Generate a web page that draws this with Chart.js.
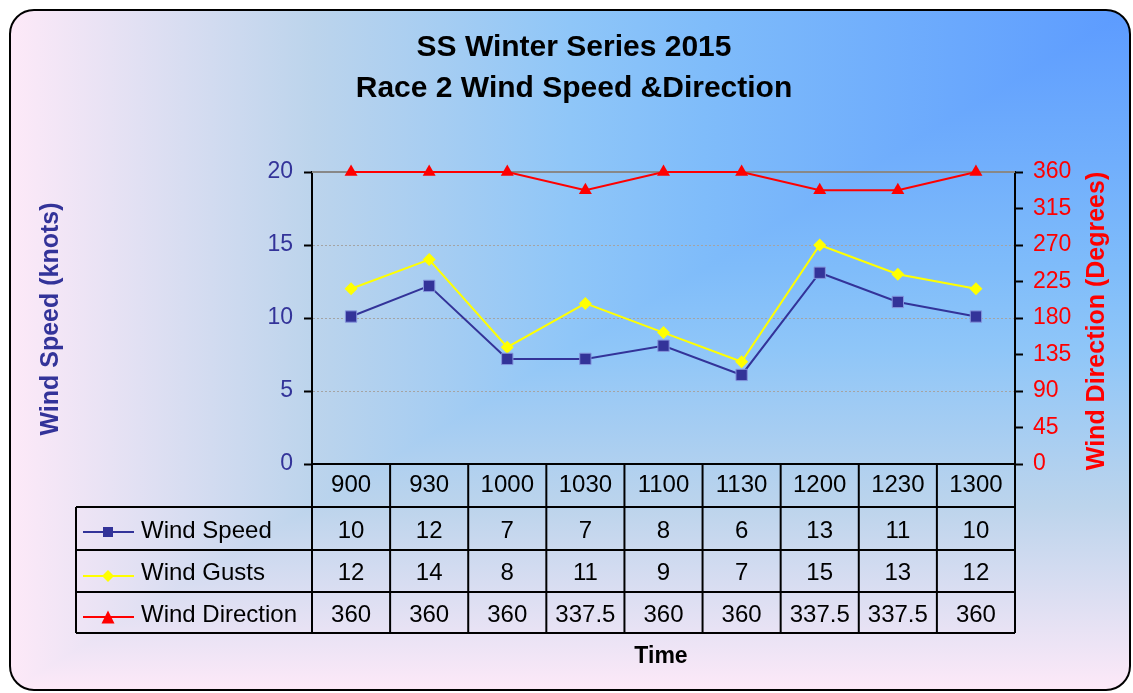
<!DOCTYPE html>
<html>
<head>
<meta charset="utf-8">
<title>SS Winter Series 2015 - Race 2</title>
<script src="https://cdn.jsdelivr.net/npm/chart.js@4.4.0/dist/chart.umd.min.js"></script>
<style>
  html, body { margin: 0; padding: 0; background: #fff; }
  #grafico { display: block; }
</style>
</head>
<body>
<canvas id="grafico" width="1133" height="693"></canvas>
<script>
// Dados
const horarios   = ['900', '930', '1000', '1030', '1100', '1130', '1200', '1230', '1300']
const velocidade = [10.1, 12.2, 7.2, 7.2, 8.1, 6.1, 13.1, 11.1, 10.1]
const rajadas    = [12, 14, 8, 11, 9, 7, 15, 13, 12]
const direcao    = [360, 360, 360, 337.5, 360, 360, 337.5, 337.5, 360]

const titulo      = ['SS Winter Series 2015', 'Race 2 Wind Speed &Direction']
const tituloEsq   = 'Wind Speed (knots)'
const tituloDir   = 'Wind Direction (Degrees)'
const tituloX     = 'Time'

const FONTE = '"Liberation Sans", Arial, sans-serif'
const AZUL = '#333399'
const AMARELO = '#ffff00'
const VERMELHO = '#ff0000'

Chart.defaults.font.family = FONTE

// gradiente "do canto" (retangular) a partir do canto superior direito
const paradas = [
  [0, '#5c9bff'],
  [0.38, '#7fbcfa'],
  [0.5, '#8fc6f8'],
  [0.73, '#bcd4ec'],
  [1, '#fde9f8']
]

function caminhoArredondado(ctx, x, y, w, h, r) {
  ctx.beginPath()
  ctx.moveTo(x + r, y)
  ctx.lineTo(x + w - r, y)
  ctx.arcTo(x + w, y, x + w, y + r, r)
  ctx.lineTo(x + w, y + h - r)
  ctx.arcTo(x + w, y + h, x + w - r, y + h, r)
  ctx.lineTo(x + r, y + h)
  ctx.arcTo(x, y + h, x, y + h - r, r)
  ctx.lineTo(x, y + r)
  ctx.arcTo(x, y, x + r, y, r)
  ctx.closePath()
}

const fundo = {
  id: 'fundo',
  beforeDraw(chart) {
    const ctx = chart.ctx
    const x0 = 10, y0 = 10, x1 = 1130, y1 = 690
    ctx.save()
    ctx.fillStyle = '#fff'
    ctx.fillRect(0, 0, chart.width, chart.height)
    caminhoArredondado(ctx, x0, y0, x1 - x0, y1 - y0, 24)
    ctx.save()
    ctx.clip()
    const gv = ctx.createLinearGradient(0, y0, 0, y1)
    const gh = ctx.createLinearGradient(x1, 0, x0, 0)
    paradas.forEach(([p, c]) => { gv.addColorStop(p, c); gh.addColorStop(p, c) })
    ctx.fillStyle = gv
    ctx.fillRect(x0, y0, x1 - x0, y1 - y0)
    ctx.beginPath()
    ctx.moveTo(x0, y0)
    ctx.lineTo(x1, y0)
    ctx.lineTo(x0, y1)
    ctx.closePath()
    ctx.fillStyle = gh
    ctx.fill()
    ctx.restore()
    // borda arredondada
    caminhoArredondado(ctx, x0, y0, x1 - x0, y1 - y0, 24)
    ctx.lineWidth = 2
    ctx.strokeStyle = '#000'
    ctx.stroke()
    ctx.restore()
  },
  beforeDatasetsDraw(chart) {
    // linha superior da área do gráfico
    const { ctx, chartArea } = chart
    ctx.save()
    ctx.strokeStyle = '#888'
    ctx.lineWidth = 2
    ctx.beginPath()
    ctx.moveTo(chartArea.left, chartArea.top)
    ctx.lineTo(chartArea.right, chartArea.top)
    ctx.stroke()
    ctx.restore()
  }
}

function marcador(ctx, tipo, x, y, cor, tam) {
  ctx.fillStyle = cor
  ctx.beginPath()
  if (tipo === 'rect') {
    ctx.rect(x - tam / 2, y - tam / 2, tam, tam)
  } else if (tipo === 'rectRot') {
    ctx.moveTo(x, y - tam / 2)
    ctx.lineTo(x + tam / 2, y)
    ctx.lineTo(x, y + tam / 2)
    ctx.lineTo(x - tam / 2, y)
  } else {
    ctx.moveTo(x, y - tam / 2)
    ctx.lineTo(x + tam / 2, y + tam / 2)
    ctx.lineTo(x - tam / 2, y + tam / 2)
  }
  ctx.closePath()
  ctx.fill()
}

const tabela = {
  id: 'tabela',
  afterDraw(chart) {
    const { ctx, chartArea } = chart
    const xs = chart.scales.x
    const esq = 76
    const linhas = [507, 550, 592, 633]
    const topo = chartArea.bottom

    ctx.save()
    ctx.strokeStyle = '#000'
    ctx.lineWidth = 2

    // linhas horizontais da tabela
    linhas.forEach(y => {
      ctx.beginPath()
      ctx.moveTo(esq, y)
      ctx.lineTo(chartArea.right, y)
      ctx.stroke()
    })
    // colunas
    const bordas = [chartArea.left]
    for (let i = 1; i < horarios.length; i++) {
      bordas.push((xs.getPixelForValue(i - 1) + xs.getPixelForValue(i)) / 2)
    }
    bordas.push(chartArea.right)
    bordas.forEach(x => {
      ctx.beginPath()
      ctx.moveTo(x, topo)
      ctx.lineTo(x, linhas[3])
      ctx.stroke()
    })
    ctx.beginPath()
    ctx.moveTo(esq, linhas[0])
    ctx.lineTo(esq, linhas[3])
    ctx.stroke()

    // legenda + valores
    const series = [
      { nome: 'Wind Speed', cor: AZUL, tipo: 'rect', tam: 10, dados: velocidade.map(v => Math.round(v)), y: 531, ym: 532 },
      { nome: 'Wind Gusts', cor: AMARELO, tipo: 'rectRot', tam: 12, dados: rajadas, y: 573, ym: 576 },
      { nome: 'Wind Direction', cor: VERMELHO, tipo: 'triangle', tam: 13, dados: direcao, y: 615, ym: 617 }
    ]
    series.forEach(s => {
      ctx.strokeStyle = s.cor
      ctx.lineWidth = 2
      ctx.beginPath()
      ctx.moveTo(83, s.ym)
      ctx.lineTo(134, s.ym)
      ctx.stroke()
      marcador(ctx, s.tipo, 108, s.ym, s.cor, s.tam)

      ctx.fillStyle = '#000'
      ctx.font = '24px ' + FONTE
      ctx.textBaseline = 'middle'
      ctx.textAlign = 'left'
      ctx.fillText(s.nome, 141, s.y)
      ctx.textAlign = 'center'
      s.dados.forEach((v, i) => ctx.fillText(String(v), xs.getPixelForValue(i), s.y))
    })

    // títulos
    ctx.fillStyle = '#000'
    ctx.textAlign = 'center'
    ctx.textBaseline = 'middle'
    ctx.font = 'bold 30px ' + FONTE
    ctx.fillText(titulo[0], 574, 48)
    ctx.fillText(titulo[1], 574, 89)

    ctx.font = 'bold 23px ' + FONTE
    ctx.fillText(tituloX, 661, 657)

    ctx.font = 'bold 25px ' + FONTE
    ctx.save()
    ctx.translate(51, 319)
    ctx.rotate(-Math.PI / 2)
    ctx.fillStyle = AZUL
    ctx.fillText(tituloEsq, 0, 0)
    ctx.restore()

    ctx.save()
    ctx.translate(1097, 321)
    ctx.rotate(-Math.PI / 2)
    ctx.fillStyle = VERMELHO
    ctx.fillText(tituloDir, 0, 0)
    ctx.restore()

    ctx.restore()
  }
}

const ctx = document.getElementById('grafico').getContext('2d')
new Chart(ctx, {
  type: 'line',
  data: {
    labels: horarios,
    datasets: [
      {
        label: 'Wind Speed', data: velocidade, yAxisID: 'y',
        borderColor: AZUL, backgroundColor: AZUL, borderWidth: 2,
        pointStyle: 'rect', pointRadius: 8, pointBorderColor: '#8494dc', pointBorderWidth: 1,
        clip: false, order: 1
      },
      {
        label: 'Wind Gusts', data: rajadas, yAxisID: 'y',
        borderColor: AMARELO, backgroundColor: AMARELO, borderWidth: 2,
        pointStyle: 'rectRot', pointRadius: 6.5, pointBorderWidth: 0,
        clip: false, order: 2
      },
      {
        label: 'Wind Direction', data: direcao, yAxisID: 'y1',
        borderColor: VERMELHO, backgroundColor: VERMELHO, borderWidth: 2,
        pointStyle: 'triangle', pointRadius: 7.5, pointBorderWidth: 0,
        clip: false, order: 3
      }
    ]
  },
  options: {
    responsive: false,
    animation: false,
    layout: { padding: { top: 172, left: 0, right: 0, bottom: 0 } },
    plugins: {
      legend: { display: false },
      title: { display: false },
      tooltip: { enabled: false }
    },
    scales: {
      x: {
        offset: true,
        grid: { display: false, drawTicks: false },
        border: { display: true, color: '#000', width: 2 },
        ticks: { color: '#000', font: { size: 24 }, padding: 7, maxRotation: 0, autoSkip: false },
        afterFit: s => { s.height = 229 }
      },
      y: {
        position: 'left',
        min: 0, max: 20,
        ticks: { stepSize: 5, color: AZUL, font: { size: 23 }, padding: 11 },
        grid: {
          color: c => (c.tick && (c.tick.value === 0 || c.tick.value === 20)) ? 'rgba(0,0,0,0)' : '#a4a4a4',
          lineWidth: 1,
          tickColor: '#000', tickLength: 8, tickWidth: 2
        },
        border: { color: '#000', width: 2, dash: [2, 2] },
        afterFit: s => { s.width = 312 }
      },
      y1: {
        position: 'right',
        min: 0, max: 360,
        ticks: { stepSize: 45, color: VERMELHO, font: { size: 23 }, padding: 10 },
        grid: { drawOnChartArea: false, tickColor: '#000', tickLength: 8, tickWidth: 2 },
        border: { color: '#000', width: 2 },
        afterFit: s => { s.width = 118 }
      }
    }
  },
  plugins: [fundo, tabela]
})
</script>
</body>
</html>
